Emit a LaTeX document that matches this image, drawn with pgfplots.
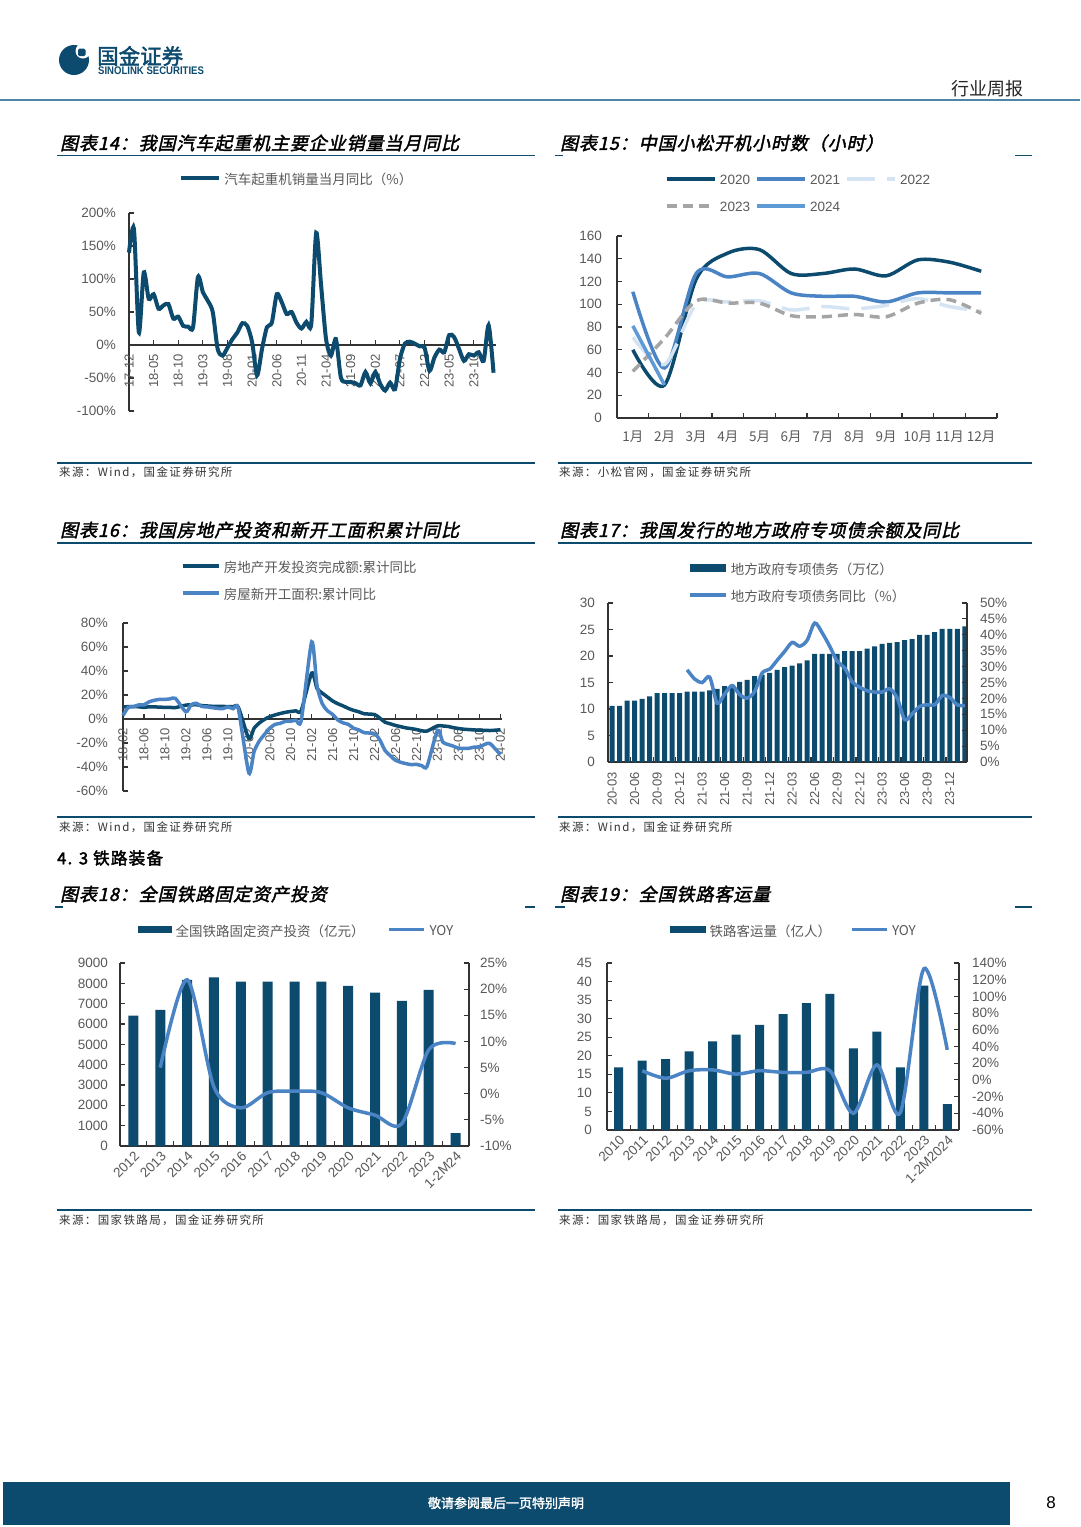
\documentclass[border=0pt]{standalone}
\usepackage{pgfplots}
\pgfplotsset{compat=1.18}
\usepackage{fontspec}
\setmainfont{Liberation Sans}
\newfontfamily\cjk{Noto Sans CJK SC}
\newfontfamily\cjkt{Noto Sans CJK SC}[FakeSlant=0.22,FakeBold=2,LetterSpace=5]
\newfontfamily\cjkb{Noto Sans CJK SC}[FakeBold=2]
\newfontfamily\cjkbs{Noto Sans CJK SC}[FakeBold=2.5,LetterSpace=8]
\newfontfamily\cjks{Noto Sans CJK SC}[LetterSpace=12]
\newcommand{\fs}[1]{\fontsize{#1}{#1}\selectfont}

\definecolor{dblue}{HTML}{0C4A6E}
\definecolor{mblue}{HTML}{4A84C4}
\definecolor{lblue}{HTML}{5E9AD6}
\definecolor{pblue}{HTML}{D4E4F3}
\definecolor{gr}{HTML}{A5A5A5}
\definecolor{tk}{HTML}{595959}
\definecolor{hline}{HTML}{4F86A8}

\pgfplotsset{
  base/.style={scale only axis, anchor=south west, clip=false,
    axis line style={draw=black!80, line width=1.1pt},
    tick style={draw=black!80, line width=1.1pt},
    tick align=inside, major tick length=5pt, minor tick length=5pt,
    tick label style={font=\fs{13.5}, text=tk},
    legend cell align=left,
    legend style={draw=none, fill=none, inner sep=0pt, outer sep=0pt,
      text=tk, font=\cjk\fs{13.5}, nodes={inner sep=1pt},
      /tikz/every odd column/.append style={column sep=2.5pt}},
  },
  lineleg/.style={legend image code/.code={\draw[##1] (0pt,1.5pt) -- (#1,1.5pt);}},
  barleg/.style={legend image code/.code={\fill[dblue] (0pt,-2.2pt) rectangle (#1,5.4pt);}},
  rot45/.style={xticklabel style={yshift=-3pt, rotate=45, anchor=north east, inner sep=1pt}},
}

\begin{document}
\begin{tikzpicture}
\begin{scope}[x=1pt,y=1pt]
\path[use as bounding box, fill=white] (0,0) rectangle (1080,-1527);
% header
\fill[dblue] (74,-60) circle (15);
\fill[white] (83,-51) circle (7.5);
\fill[dblue, rounded corners=1.5] (78,-48.5) rectangle (85.5,-56);
\node[anchor=west, inner sep=0, text=dblue, font=\cjkb\fs{21.5}] at (97,-56) {国金证券};
\node[anchor=west, inner sep=0, text=dblue, font=\bfseries\fs{11}, xscale=0.87] at (98,-71) {SINOLINK SECURITIES};
\node[anchor=east, inner sep=0, font=\cjk\fs{18}, text=black!85] at (1024,-89) {行业周报};
\fill[hline] (0,-98.5) rectangle (1080,-101);
% titles
\node[anchor=west, inner sep=0, font=\cjkt\fs{18}] at (60,-143) {图表14：我国汽车起重机主要企业销量当月同比};
\draw[dblue, line width=1.8] (57,-155.5) -- (535,-155.5);
\node[anchor=west, inner sep=0, font=\cjkt\fs{18}] at (560,-143) {图表15：中国小松开机小时数（小时）};
\draw[dblue, line width=1.8] (555,-155.5) -- (563,-155.5);
\draw[dblue, line width=1.8] (1015,-155.5) -- (1032,-155.5);
\node[anchor=west, inner sep=0, font=\cjkt\fs{18}] at (60,-530) {图表16：我国房地产投资和新开工面积累计同比};
\draw[dblue, line width=1.8] (57,-543) -- (535,-543);
\node[anchor=west, inner sep=0, font=\cjkt\fs{18}] at (560,-530) {图表17：我国发行的地方政府专项债余额及同比};
\draw[dblue, line width=1.8] (558,-543) -- (1032,-543);
\node[anchor=west, inner sep=0, font=\cjkbs\fs{16.5}] at (57,-858) {4. 3 铁路装备};
\node[anchor=west, inner sep=0, font=\cjkt\fs{18}] at (60,-894) {图表18：全国铁路固定资产投资};
\draw[dblue, line width=1.8] (55,-907) -- (63,-907);
\draw[dblue, line width=1.8] (525,-907) -- (535,-907);
\node[anchor=west, inner sep=0, font=\cjkt\fs{18}] at (560,-894) {图表19：全国铁路客运量};
\draw[dblue, line width=1.8] (555,-907) -- (565,-907);
\draw[dblue, line width=1.8] (1015,-907) -- (1032,-907);
% sources
\draw[dblue, line width=1.5] (57,-463) -- (535,-463);
\draw[dblue, line width=1.5] (558,-463) -- (1032,-463);
\node[anchor=west, inner sep=0, font=\cjks\fs{11.5}, text=black!80] at (59,-472) {来源：Wind，国金证券研究所};
\node[anchor=west, inner sep=0, font=\cjks\fs{11.5}, text=black!80] at (559,-472) {来源：小松官网，国金证券研究所};
\draw[dblue, line width=1.5] (57,-817) -- (535,-817);
\draw[dblue, line width=1.5] (558,-817) -- (1032,-817);
\node[anchor=west, inner sep=0, font=\cjks\fs{11.5}, text=black!80] at (59,-827) {来源：Wind，国金证券研究所};
\node[anchor=west, inner sep=0, font=\cjks\fs{11.5}, text=black!80] at (559,-827) {来源：Wind，国金证券研究所};
\draw[dblue, line width=1.5] (57,-1210) -- (535,-1210);
\draw[dblue, line width=1.5] (558,-1210) -- (1032,-1210);
\node[anchor=west, inner sep=0, font=\cjks\fs{11.5}, text=black!80] at (59,-1220) {来源：国家铁路局，国金证券研究所};
\node[anchor=west, inner sep=0, font=\cjks\fs{11.5}, text=black!80] at (559,-1220) {来源：国家铁路局，国金证券研究所};
% footer
\fill[dblue] (3,-1482) rectangle (1010,-1525);
\node[font=\cjkb\fs{13}, text=white] at (506,-1503) {敬请参阅最后一页特别声明};
\node[font=\fs{17}] at (1051,-1503) {8};
\end{scope}

% ---------- chart 14
\begin{axis}[base, at={(129pt,-411pt)}, width=367pt, height=198pt,
  xmin=0, xmax=74.5, ymin=-100, ymax=200,
  axis x line*=middle, axis y line*=left,
  hide obscured x ticks=false, hide obscured y ticks=false,
  ytick={-100,-50,0,50,100,150,200},
  yticklabels={-100\%,-50\%,0\%,50\%,100\%,150\%,200\%},
  yticklabel style={inner sep=13pt},
  xtick={0,5,...,70},
  xticklabels={17-12,18-05,18-10,19-03,19-08,20-01,20-06,20-11,21-04,21-09,22-02,22-07,22-12,23-05,23-10},
  xticklabel style={rotate=90, anchor=east, inner sep=9pt, font=\fs{13}},
  legend style={at={(rel axis cs:0.136,1.167)}, anchor=west},
]
\addplot[dblue, line width=4pt, smooth, tension=0.45, lineleg=38pt] coordinates {
(0,140)(1,176)(2,19)(3,110)(4,70)(5,77)(6,55)(7,60)(8,62)(9,40)
(10,43)(11,29)(12,28)(13,27)(14,103)(15,80)(16,67)(17,50)(18,-6)(19,-16)
(20,-4)(21,9)(22,19)(23,33)(24,29)(25,4)(26,-46)(27,-6)(28,27)(29,34)
(30,77)(31,65)(32,47)(33,50)(34,34)(35,25)(36,35)(37,32)(38,170)(39,90)
(40,9)(41,-16)(42,9)(43,-49)(44,-56)(45,-56)(46,-58)(47,-61)(48,-41)(49,-58)
(50,-41)(51,-59)(52,-69)(53,-57)(54,-67)(55,-21)(56,2)(57,5)(58,2)(59,-2)
(60,-4)(61,-39)(62,-19)(63,-7)(64,-11)(65,15)(66,12)(67,-6)(68,-24)(69,-14)
(70,-16)(71,-11)(72,-24)(73,30)(74,-42)};
\addlegendentry{汽车起重机销量当月同比（\%）}
\end{axis}

% ---------- chart 15
\begin{axis}[base, at={(617pt,-418pt)}, width=380pt, height=182pt,
  xmin=0.5, xmax=12.5, ymin=0, ymax=160,
  axis x line*=bottom, axis y line*=left,
  ytick={0,20,...,160}, yticklabels={0,20,40,60,80,100,120,140,160},
  yticklabel style={inner sep=15pt},
  xtick={1,...,12}, xticklabels={1月,2月,3月,4月,5月,6月,7月,8月,9月,10月,11月,12月},
  xticklabel style={font=\cjk\fs{13.5}, inner sep=13pt},
  every major x tick/.append style={draw=none},
  minor xtick={0.5,1.5,...,12.5},
  legend columns=3,
  legend style={at={(rel axis cs:0.1263,1.3406)}, anchor=north west, font=\fs{13.5},
    row sep=14pt, /tikz/every even column/.append style={column sep=4pt}},
]
\addplot[dblue, line width=3.5pt, smooth, lineleg=48pt] coordinates {
(1,60)(2,29)(3,122)(4,145)(5,148)(6,127)(7,127)(8,131)(9,125)(10,139)(11,137)(12,129)};
\addlegendentry{2020}
\addplot[mblue, line width=3.5pt, smooth, lineleg=48pt] coordinates {
(1,111)(2,44)(3,127)(4,124)(5,127)(6,110)(7,107)(8,107)(9,102)(10,110)(11,110)(12,110)};
\addlegendentry{2021}
\addplot[pblue, line width=3.5pt, smooth, dash pattern=on 28pt off 12pt, lineleg=48pt] coordinates {
(1,71)(2,47)(3,100)(4,102)(5,103)(6,95)(7,98)(8,96)(9,99)(10,105)(11,98)(12,94)};
\addlegendentry{2022}
\addplot[gr, line width=3.5pt, smooth, dash pattern=on 10pt off 6pt, lineleg=44pt] coordinates {
(1,41)(2,70)(3,103)(4,101)(5,101)(6,90)(7,89)(8,91)(9,89)(10,101)(11,104)(12,92)};
\addlegendentry{2023}
\addplot[lblue, line width=3.5pt, smooth, lineleg=48pt] coordinates {(1,81)(2,29)};
\addlegendentry{2024}
\end{axis}

% ---------- chart 16
\begin{axis}[base, at={(123pt,-791pt)}, width=379pt, height=168pt,
  xmin=0, xmax=72.3, ymin=-60, ymax=80,
  axis x line*=middle, axis y line*=left,
  hide obscured x ticks=false, hide obscured y ticks=false,
  ytick={-60,-40,...,80}, yticklabels={-60\%,-40\%,-20\%,0\%,20\%,40\%,60\%,80\%},
  yticklabel style={inner sep=15pt},
  xtick={0,4,...,72},
  xticklabels={18-02,18-06,18-10,19-02,19-06,19-10,20-02,20-06,20-10,21-02,21-06,21-10,22-02,22-06,22-10,23-02,23-06,23-10,24-02},
  xticklabel style={rotate=90, anchor=east, inner sep=9pt, font=\fs{13}},
  legend style={at={(rel axis cs:0.153,1.375)}, anchor=north west, row sep=12pt},
]
\addplot[dblue, line width=3.5pt, smooth, tension=0.4, lineleg=36pt] coordinates {
(0,9.9)(1,10.4)(2,10.3)(3,10.2)(4,9.7)(5,10.2)(6,10.1)(7,9.9)(8,9.7)(9,9.7)(10,9.5)
(12,11.6)(13,11.8)(14,11.9)(15,11.2)(16,10.9)(17,10.6)(18,10.5)(19,10.5)(20,10.3)(21,10.2)(22,9.9)
(24,-16.3)(25,-7.7)(26,-3.3)(27,-0.3)(28,1.9)(29,3.4)(30,4.6)(31,5.6)(32,6.3)(33,6.8)(34,7.0)
(36,38.3)(37,25.6)(38,21.6)(39,18.3)(40,15.0)(41,12.7)(42,10.9)(43,8.8)(44,7.2)(45,6.0)(46,4.4)
(48,3.7)(49,0.7)(50,-2.7)(51,-4.0)(52,-5.4)(53,-6.4)(54,-7.4)(55,-8.0)(56,-8.8)(57,-9.8)(58,-10.0)
(60,-5.7)(61,-5.8)(62,-6.2)(63,-7.2)(64,-7.9)(65,-8.5)(66,-8.8)(67,-9.1)(68,-9.3)(69,-9.4)(70,-9.6)
(72,-9.0)};
\addlegendentry{房地产开发投资完成额:累计同比}
\addplot[mblue, line width=3.5pt, smooth, tension=0.4, lineleg=36pt] coordinates {
(0,2.9)(1,9.7)(2,10.3)(3,11.8)(4,11.8)(5,14.4)(6,15.6)(7,16.4)(8,16.3)(9,16.8)(10,17.2)
(12,6.0)(13,11.9)(14,13.1)(15,10.5)(16,10.1)(17,9.5)(18,8.9)(19,8.6)(20,10.0)(21,8.6)(22,8.5)
(24,-44.9)(25,-27.2)(26,-18.4)(27,-12.8)(28,-7.6)(29,-4.5)(30,-3.6)(31,-1.9)(32,-1.8)(33,-1.0)(34,-1.2)
(36,64.3)(37,28.2)(38,12.8)(39,6.9)(40,3.8)(41,-0.9)(42,-3.2)(43,-4.5)(44,-7.7)(45,-9.1)(46,-11.4)
(48,-12.2)(49,-17.5)(50,-26.3)(51,-30.6)(52,-34.4)(53,-36.1)(54,-37.2)(55,-38.0)(56,-37.8)(57,-38.9)(58,-39.4)
(60,-9.4)(61,-19.2)(62,-21.2)(63,-22.6)(64,-24.3)(65,-24.5)(66,-24.4)(67,-23.4)(68,-23.2)(69,-21.2)(70,-20.4)
(72,-29.7)};
\addlegendentry{房屋新开工面积:累计同比}
\end{axis}

% ---------- chart 17
\begin{axis}[base, at={(608pt,-762pt)}, width=359pt, height=159pt,
  xmin=-0.55, xmax=47.3, ymin=0, ymax=30,
  axis x line*=bottom, axis y line*=left,
  ytick={0,5,...,30}, yticklabels={0,5,10,15,20,25,30},
  yticklabel style={inner sep=13pt},
  xtick={0,3,...,45},
  xticklabels={20-03,20-06,20-09,20-12,21-03,21-06,21-09,21-12,22-03,22-06,22-09,22-12,23-03,23-06,23-09,23-12},
  xticklabel style={rotate=90, anchor=east, inner sep=10pt, font=\fs{13}},
  every major x tick/.append style={draw=none},
  minor xtick={2.5,5.5,...,44.5},
  legend style={at={(rel axis cs:0.2228,1.258)}, anchor=north west, row sep=12pt},
]
\addplot[ybar, bar width=5pt, fill=dblue, draw=none, barleg=36pt] coordinates {
(0,10.6)(1,10.6)(2,11.6)(3,11.6)(4,11.9)(5,12.4)(6,13.0)(7,13.0)(8,13.0)(9,13.0)
(10,13.3)(11,13.3)(12,13.3)(13,13.5)(14,13.8)(15,14.3)(16,14.6)(17,15.1)(18,15.5)(19,16.2)
(20,16.5)(21,16.8)(22,17.4)(23,17.9)(24,18.2)(25,18.6)(26,19.2)(27,20.4)(28,20.4)(29,20.4)
(30,20.4)(31,20.9)(32,20.9)(33,20.9)(34,21.4)(35,21.8)(36,22.3)(37,22.5)(38,22.6)(39,23.0)
(40,23.2)(41,24.0)(42,24.0)(43,24.5)(44,25.1)(45,25.1)(46,25.1)(47,25.6)};
\addlegendentry{地方政府专项债务（万亿）}
\addlegendimage{mblue, line width=3.5pt, lineleg=36pt}
\addlegendentry{地方政府专项债务同比（\%）}
\end{axis}
\begin{axis}[base, at={(608pt,-762pt)}, width=359pt, height=159pt,
  xmin=-0.55, xmax=47.3, ymin=0, ymax=50,
  axis y line*=right, axis x line=none,
  ytick={0,5,...,50}, yticklabels={0\%,5\%,10\%,15\%,20\%,25\%,30\%,35\%,40\%,45\%,50\%},
  yticklabel style={inner sep=13pt},
]
\addplot[mblue, line width=3.5pt, smooth] coordinates {
(10,29.0)(11,26.1)(12,25.0)(13,26.7)(14,18.5)(15,21.4)(16,24.0)(17,21.2)(18,20.1)(19,22.2)
(20,28.0)(21,29.2)(22,32.0)(23,34.8)(24,37.6)(25,36.4)(26,38.3)(27,43.7)(28,40.6)(29,36.4)
(30,31.7)(31,29.6)(32,25.2)(33,23.5)(34,22.4)(35,22.0)(36,22.0)(37,23.0)(38,20.1)(39,13.3)
(40,15.2)(41,17.5)(42,18.0)(43,18.0)(44,20.9)(45,20.3)(46,18.0)(47,17.7)};
\end{axis}

% ---------- chart 18
\begin{axis}[base, rot45, at={(120pt,-1146pt)}, width=349pt, height=183pt,
  xmin=-0.5, xmax=12.5, ymin=0, ymax=9000,
  axis x line*=bottom, axis y line*=left,
  ytick={0,1000,...,9000}, yticklabels={0,1000,2000,3000,4000,5000,6000,7000,8000,9000},
  yticklabel style={inner sep=12pt},
  xtick={0,...,12},
  xticklabels={2012,2013,2014,2015,2016,2017,2018,2019,2020,2021,2022,2023,1-2M24},
  every major x tick/.append style={draw=none},
  minor xtick={0.5,1.5,...,11.5},
  legend columns=2,
  legend style={at={(rel axis cs:0.0516,1.175)}, anchor=west,
    /tikz/every even column/.append style={column sep=22pt}},
]
\addplot[ybar, bar width=10pt, fill=dblue, draw=none, barleg=34pt] coordinates {
(0,6410)(1,6690)(2,8170)(3,8290)(4,8090)(5,8090)(6,8090)(7,8090)(8,7880)(9,7550)(10,7140)(11,7680)(12,640)};
\addlegendentry{全国铁路固定资产投资（亿元）}
\addlegendimage{mblue, line width=3.5pt, lineleg=35pt}
\addlegendentry{YOY}
\end{axis}
\begin{axis}[base, at={(120pt,-1146pt)}, width=349pt, height=183pt,
  xmin=-0.5, xmax=12.5, ymin=-10, ymax=25,
  axis y line*=right, axis x line=none,
  ytick={-10,-5,...,25}, yticklabels={-10\%,-5\%,0\%,5\%,10\%,15\%,20\%,25\%},
  yticklabel style={inner sep=11pt},
]
\addplot[mblue, line width=3.5pt, smooth] coordinates {
(1,5.0)(2,21.8)(3,1.3)(4,-2.7)(5,0.2)(6,0.5)(7,0.2)(8,-2.7)(9,-4.1)(10,-5.7)(11,8.4)(12,9.6)};
\end{axis}

% ---------- chart 19
\begin{axis}[base, rot45, at={(607pt,-1130pt)}, width=352pt, height=167pt,
  xmin=-0.5, xmax=14.5, ymin=0, ymax=45,
  axis x line*=bottom, axis y line*=left,
  ytick={0,5,...,45}, yticklabels={0,5,10,15,20,25,30,35,40,45},
  yticklabel style={inner sep=15pt},
  xtick={0,...,14},
  xticklabels={2010,2011,2012,2013,2014,2015,2016,2017,2018,2019,2020,2021,2022,2023,1-2M2024},
  every major x tick/.append style={draw=none},
  minor xtick={0.5,1.5,...,13.5},
  legend columns=2,
  legend style={at={(rel axis cs:0.179,1.1916)}, anchor=west,
    /tikz/every even column/.append style={column sep=18pt}},
]
\addplot[ybar, bar width=9pt, fill=dblue, draw=none, barleg=36pt] coordinates {
(0,16.9)(1,18.7)(2,19.1)(3,21.2)(4,23.9)(5,25.7)(6,28.3)(7,31.2)(8,34.2)(9,36.7)
(10,22.0)(11,26.5)(12,16.9)(13,38.9)(14,7.0)};
\addlegendentry{铁路客运量（亿人）}
\addlegendimage{mblue, line width=3.5pt, lineleg=35pt}
\addlegendentry{YOY}
\end{axis}
\begin{axis}[base, at={(607pt,-1130pt)}, width=352pt, height=167pt,
  xmin=-0.5, xmax=14.5, ymin=-60, ymax=140,
  axis y line*=right, axis x line=none,
  ytick={-60,-40,...,140}, yticklabels={-60\%,-40\%,-20\%,0\%,20\%,40\%,60\%,80\%,100\%,120\%,140\%},
  yticklabel style={inner sep=13pt},
]
\addplot[mblue, line width=3.5pt, smooth] coordinates {
(1,11)(2,2)(3,11)(4,12)(5,7)(6,11)(7,9)(8,9)(9,11)(10,-40)(11,18)(12,-39)(13,133)(14,36)};
\end{axis}
\end{tikzpicture}
\end{document}
